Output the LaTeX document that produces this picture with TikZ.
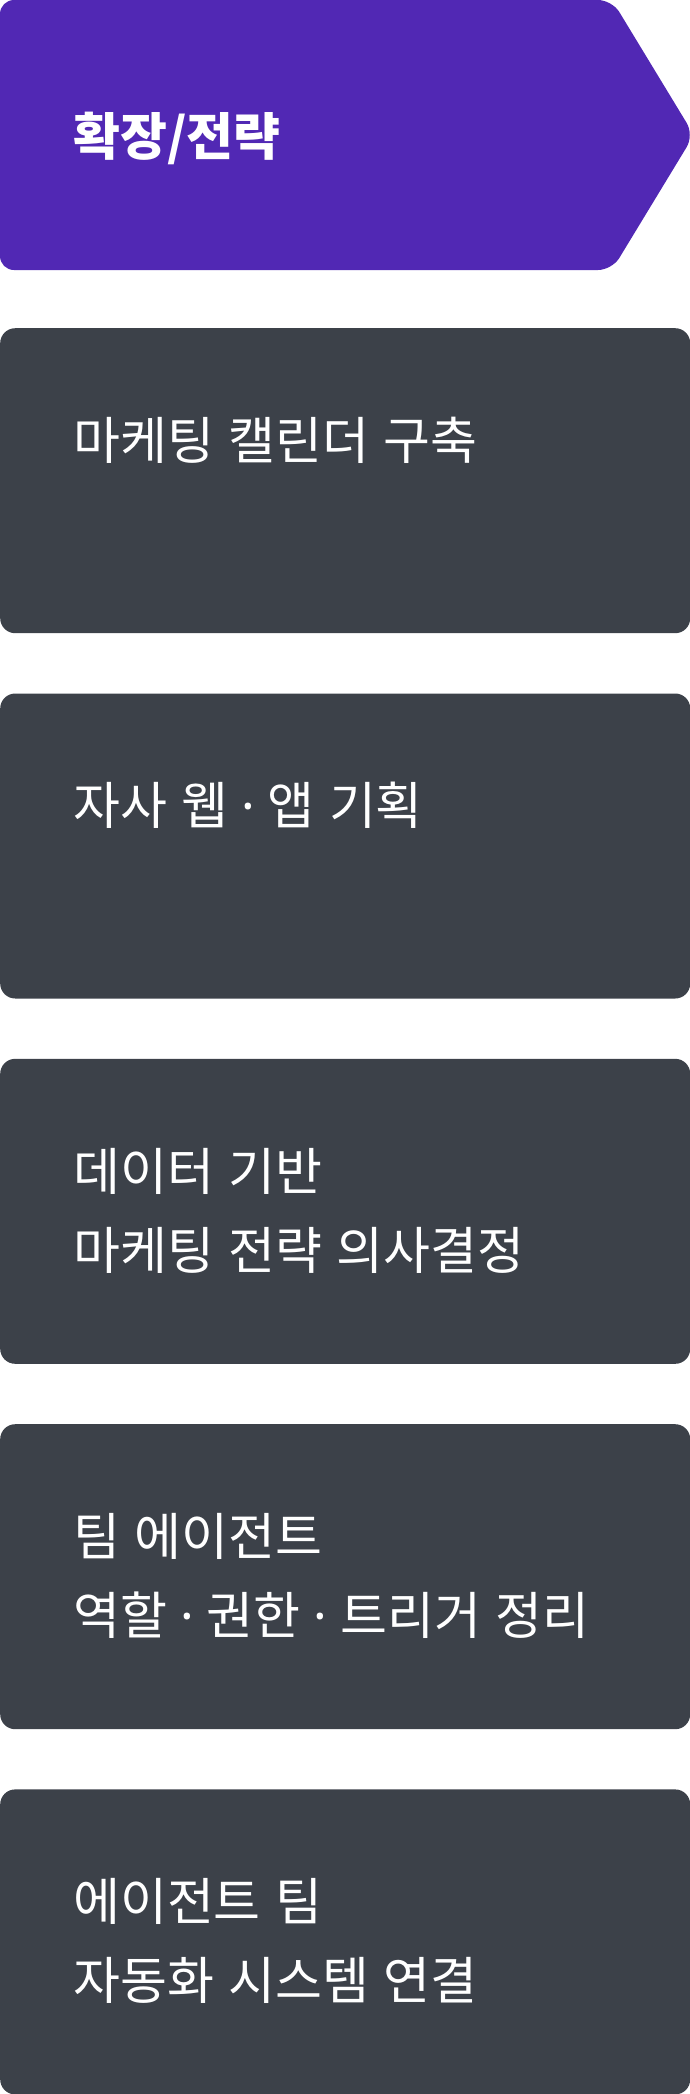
\documentclass[tikz,border=0pt]{standalone}
\usepackage{fontspec}
\newfontfamily\kr[RawFeature=+palt, WordSpace=1.25]{Noto Sans CJK KR}
\newfontfamily\latn{Noto Sans}
\newcommand\mdot{\hskip 13pt{\latn ·}\hskip 13pt}
\definecolor{hdpurple}{HTML}{5128B4}
\definecolor{boxgray}{HTML}{3C4149}
\begin{document}
\begin{tikzpicture}[x=1pt,y=-1pt,
  graybox/.style={fill=boxgray, rounded corners=15pt, minimum width=690pt, minimum height=305pt, inner sep=0pt, anchor=north west, draw=none},
  boxtext/.style={text=white, anchor=base west, inner sep=0pt, font=\kr\fontsize{51}{60}\selectfont},
  titletext/.style={text=white, anchor=base west, inner sep=0pt, font=\kr\bfseries\fontsize{51}{60}\selectfont}]
\useasboundingbox (0,0) rectangle (690,2094);
% header chevron
\fill[hdpurple, rounded corners=14pt] (0,0) -- (612,0) -- (694,135) -- (612,270) -- (0,270) -- cycle;
\node[titletext] (title) at (73,155) {확장/전략};
% boxes
\node[graybox] (b1) at (0,328) {};
\node[graybox] (b2) at (0,693.3) {};
\node[graybox] (b3) at (0,1058.6) {};
\node[graybox] (b4) at (0,1424) {};
\node[graybox] (b5) at (0,1789.2) {};
\node[boxtext] (t1) at (73,459.5) {마케팅 캘린더 구축};
\node[boxtext] (t2) at (73,824.8) {자사 웹\mdot 앱 기획};
\node[boxtext] (t3a) at (73,1190.1) {데이터 기반};
\node[boxtext] (t3b) at (73,1269.1) {마케팅 전략 의사결정};
\node[boxtext] (t4a) at (73,1555.5) {팀 에이전트};
\node[boxtext] (t4b) at (73,1634.5) {역할\mdot 권한\mdot 트리거 정리};
\node[boxtext] (t5a) at (73,1920.7) {에이전트 팀};
\node[boxtext] (t5b) at (73,1999.7) {자동화 시스템 연결};
\end{tikzpicture}
\end{document}
